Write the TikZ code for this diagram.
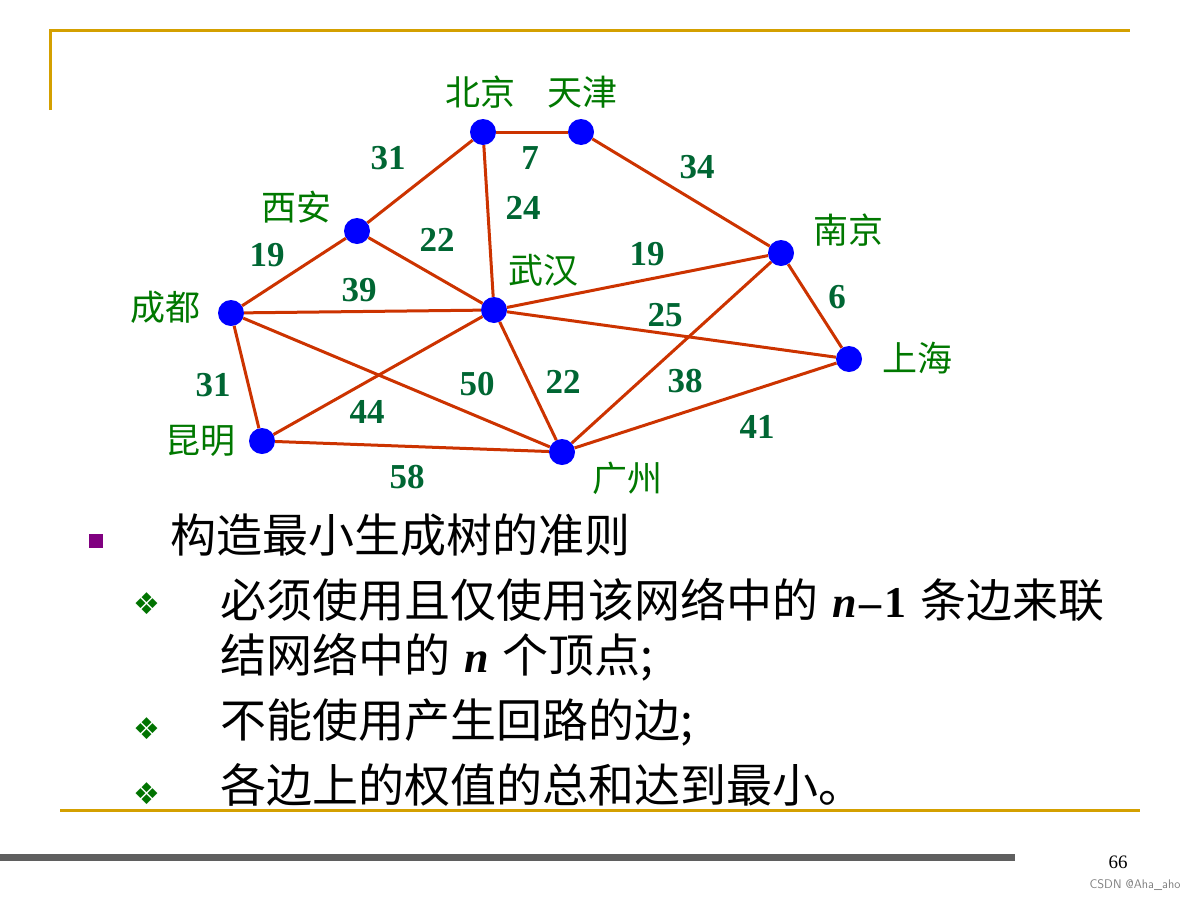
\documentclass[tikz,border=0pt]{standalone}
\usepackage{fontspec}
\usepackage{tikz}
\usetikzlibrary{positioning}
\setmainfont{Liberation Serif}
\newfontfamily\cjk{Noto Sans CJK SC}
\newfontfamily\symfont{DejaVu Sans}
\definecolor{FrameGold}{HTML}{D4A000}
\definecolor{EdgeRed}{HTML}{CC3300}
\definecolor{CityGreen}{HTML}{007800}
\definecolor{WeightGreen}{HTML}{006633}
\definecolor{BulletPurple}{HTML}{800080}
\definecolor{BarGray}{HTML}{5F5F5F}
\newcommand{\cityfont}{\cjk\fontsize{35}{40}\selectfont}
\newcommand{\bodyfont}{\cjk\fontsize{46}{52}\selectfont}
\newcommand{\mvar}[1]{{\rmfamily\fontsize{44}{52}\selectfont\bfseries\itshape #1}}
\newcommand{\mnum}[1]{{\rmfamily\fontsize{44}{52}\selectfont\bfseries #1}}

\begin{document}
\begin{tikzpicture}[x=1pt, y=-1pt,
  city/.style={circle, fill=blue, inner sep=0pt, minimum size=26pt},
  citylabel/.style={font=\cityfont, text=CityGreen, inner sep=0pt},
  wt/.style={font=\fontsize{35}{36}\selectfont\bfseries, text=WeightGreen, inner sep=0pt},
  road/.style={draw=EdgeRed, line width=3pt},
  body/.style={font=\bodyfont, anchor=west, inner sep=0pt},
  diam/.style={text=green!45!black, font=\symfont\fontsize{30}{32}\selectfont, inner sep=0pt},
  rule/.style={draw=FrameGold, line width=3pt}]
  \useasboundingbox (0,0) rectangle (1200,900);
  % frame
  \draw[rule] (50,110) -- (50,30) -- (1130,30);
  \draw[rule] (60,810) -- (1140,810);
  \fill[BarGray] (0,853.5) rectangle (1015,860.5);
  \node[font=\fontsize{19}{20}\selectfont, inner sep=0pt] (page) at (1118,862) {66};
  \node[font=\sffamily\fontsize{12.5}{13}\selectfont, text=gray, inner sep=0pt] (mark) at (1135,885) {CSDN @Aha\_aho};
  % cities
  \node[city] (bj) at (483,132) {};
  \node[city] (tj) at (581,132) {};
  \node[city] (xa) at (357,231) {};
  \node[city] (wh) at (494,310) {};
  \node[city] (cd) at (231,313) {};
  \node[city] (km) at (262,441) {};
  \node[city] (gz) at (562,452) {};
  \node[city] (nj) at (781,253) {};
  \node[city] (sh) at (849,359) {};
  \node[citylabel] (bjname) at (480,92) {北京};
  \node[citylabel] (tjname) at (582,92) {天津};
  \node[citylabel] (xaname) at (296,207) {西安};
  \node[citylabel] (whname) at (543,270) {武汉};
  \node[citylabel] (cdname) at (165,307) {成都};
  \node[citylabel] (kmname) at (200,441) {昆明};
  \node[citylabel] (gzname) at (627,478) {广州};
  \node[citylabel] (njname) at (848,230) {南京};
  \node[citylabel] (shname) at (917,358) {上海};
  % roads
  \draw[road] (bj) -- (tj);
  \draw[road] (bj) -- (xa);
  \draw[road] (bj) -- (wh);
  \draw[road] (tj) -- (nj);
  \draw[road] (xa) -- (cd);
  \draw[road] (xa) -- (wh);
  \draw[road] (cd) -- (wh);
  \draw[road] (wh) -- (nj);
  \draw[road] (nj) -- (sh);
  \draw[road] (wh) -- (sh);
  \draw[road] (cd) -- (km);
  \draw[road] (cd) -- (gz);
  \draw[road] (wh) -- (km);
  \draw[road] (wh) -- (gz);
  \draw[road] (nj) -- (gz);
  \draw[road] (sh) -- (gz);
  \draw[road] (km) -- (gz);
  % weights
  \node[wt] (w1) at (530,158) {7};
  \node[wt] (w2) at (388,158) {31};
  \node[wt] (w3) at (523,208) {24};
  \node[wt] (w4) at (697,167) {34};
  \node[wt] (w5) at (267,255) {19};
  \node[wt] (w6) at (437,240) {22};
  \node[wt] (w7) at (359,290) {39};
  \node[wt] (w8) at (647,254) {19};
  \node[wt] (w9) at (837,297) {6};
  \node[wt] (w10) at (665,315) {25};
  \node[wt] (w11) at (213,385) {31};
  \node[wt] (w12) at (477,384) {50};
  \node[wt] (w13) at (367,412) {44};
  \node[wt] (w14) at (563,382) {22};
  \node[wt] (w15) at (685,381) {38};
  \node[wt] (w16) at (757,427) {41};
  \node[wt] (w17) at (407,477) {58};
  % rules text
  \fill[BulletPurple] (89,534) rectangle (103,548);
  \node[body] (head) at (170,535) {构造最小生成树的准则};
  \node[diam] (d1) at (147,604) {❖};
  \node[body] (r1) at (220,600) {必须使用且仅使用该网络中的\hspace{14pt}\mvar{n}\hspace{3pt}\mnum{--\hspace{3pt}1}\hspace{14pt}条边来联};
  \node[body] (r1b) at (220,657) {结网络中的\hspace{14pt}\mvar{n}\hspace{14pt}个顶点;};
  \node[diam] (d2) at (147,729) {❖};
  \node[body] (r2) at (220,722) {不能使用产生回路的边;};
  \node[diam] (d3) at (147,794) {❖};
  \node[body] (r3) at (220,785) {各边上的权值的总和达到最小。};
\end{tikzpicture}
\end{document}
